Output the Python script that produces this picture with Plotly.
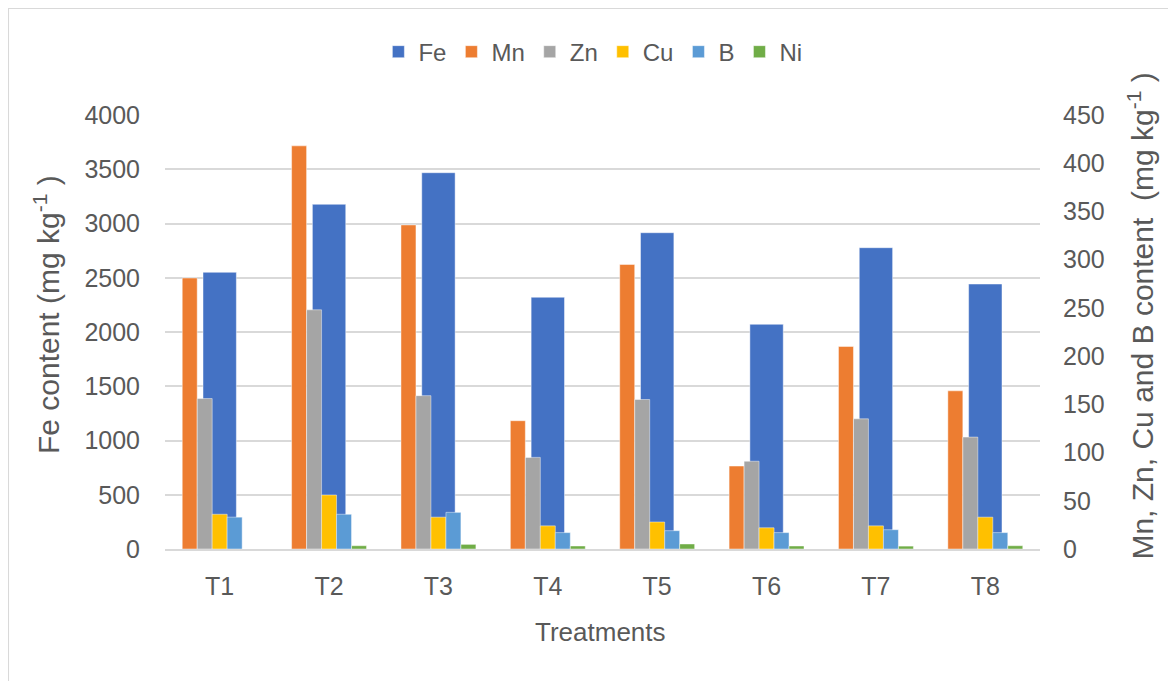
import plotly.graph_objects as go

treatments = ["T1", "T2", "T3", "T4", "T5", "T6", "T7", "T8"]
fe = [2550, 3177, 3468, 2320, 2915, 2071, 2777, 2442]
mn = [281, 418, 336, 133, 295, 86, 210, 164]
zn = [156, 248, 159, 95, 155, 91, 135, 116]
cu = [36, 56, 33, 24, 28, 22, 24, 33]
b = [33, 36, 38, 17, 19, 17, 20, 17]
ni = [0, 3.4, 4.8, 3.1, 5.2, 3.1, 3.0, 3.4]

secondary = [("Mn", mn, "#ED7D31"), ("Zn", zn, "#A5A5A5"), ("Cu", cu, "#FFC000"),
             ("B", b, "#5B9BD5"), ("Ni", ni, "#70AD47")]

FONT = "Liberation Sans, Arial, sans-serif"
TXT = "#595959"
GRID = "#D9D9D9"

fig = go.Figure()
fe_w = 0.305
fig.add_trace(go.Bar(name="Fe", x=treatments, y=fe, width=fe_w, offset=-fe_w / 2,
                     marker=dict(color="#4472C4", line=dict(color="rgba(255,255,255,0.45)", width=1)),
                     yaxis="y"))
w = 0.137
for i, (name, vals, col) in enumerate(secondary):
    fig.add_trace(go.Bar(name=name, x=treatments, y=vals, width=w, offset=-2.5 * w + i * w,
                         marker=dict(color=col, line=dict(color="rgba(255,255,255,0.45)", width=1)),
                         yaxis="y2"))

fig.update_layout(
    width=1168, height=673,
    margin=dict(l=157, r=136, t=107, b=132, autoexpand=False),
    paper_bgcolor="white", plot_bgcolor="white",
    barmode="overlay",
    font=dict(family=FONT, color=TXT, size=25),
    showlegend=True,
    legend=dict(orientation="h", x=0.489, xanchor="center", y=1.145, yanchor="middle",
                font=dict(size=24, color=TXT), itemwidth=30, traceorder="normal",
                bgcolor="rgba(0,0,0,0)"),
    xaxis=dict(type="category", range=[-0.5, 7.5], showgrid=False, showline=True,
               linecolor=GRID, linewidth=2, ticks="", tickfont=dict(size=25, color=TXT),
               ticklabelstandoff=14),
    yaxis=dict(range=[0, 4000], dtick=500, showgrid=True, gridcolor=GRID, gridwidth=2,
               zeroline=False, showline=False, ticks="", tickfont=dict(size=25, color=TXT),
               ticklabelstandoff=24),
    yaxis2=dict(range=[0, 450], dtick=50, overlaying="y", side="right", showgrid=False,
                zeroline=False, showline=False, ticks="", tickfont=dict(size=25, color=TXT),
                ticklabelstandoff=22),
    annotations=[
        dict(text="Fe content (mg kg<sup>-1</sup> )", xref="paper", yref="paper",
             x=-0.135, y=0.541, textangle=-90, showarrow=False,
             font=dict(size=30, color=TXT), xanchor="center", yanchor="middle"),
        dict(text="Mn, Zn, Cu and B content  (mg kg<sup>-1</sup> )", xref="paper", yref="paper",
             x=1.115, y=0.537, textangle=-90, showarrow=False,
             font=dict(size=30, color=TXT), xanchor="center", yanchor="middle"),
        dict(text="Treatments", xref="paper", yref="paper", x=0.498, y=-0.191,
             showarrow=False, font=dict(size=26, color=TXT), xanchor="center", yanchor="middle"),
    ],
    shapes=[dict(type="rect", xref="paper", yref="paper", x0=-0.1794, x1=1.17,
                 y0=-0.33, y1=1.2465, line=dict(color="#D9D9D9", width=2), layer="below")],
)

fig.write_html("out.html")
